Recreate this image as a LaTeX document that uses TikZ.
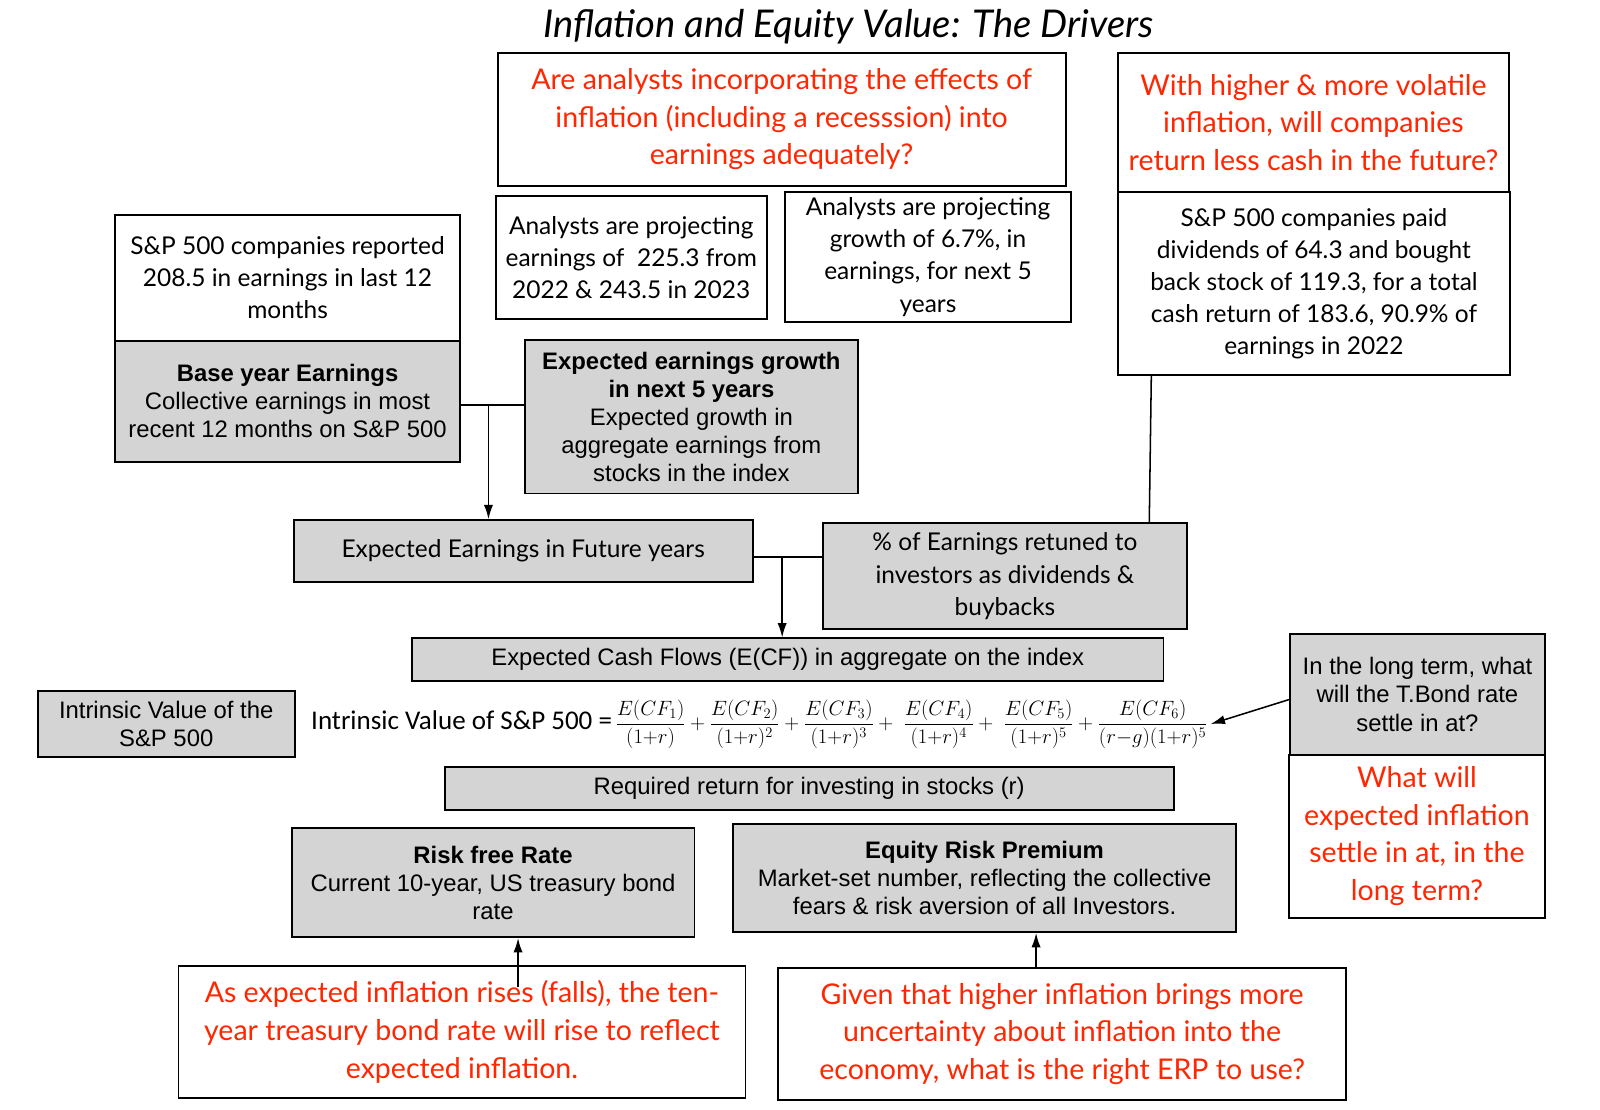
\RequirePackage{fix-cm}
\documentclass[tikz,border=0pt]{standalone}
\usepackage[no-math]{fontspec}
\usepackage{amsmath}
\setmainfont{Lato}
\newfontfamily\arfont{Liberation Sans}
\newfontfamily\calfont{Carlito}
\usetikzlibrary{arrows.meta,calc}
\definecolor{boxgray}{RGB}{212,212,212}
\definecolor{qred}{RGB}{255,38,0}
\tikzset{
 box/.style={draw=black, line width=1.8pt, inner sep=0pt, align=center},
 wbox/.style={box, fill=white, font=\fontsize{24}{31.5}\selectfont},
 gbox/.style={box, fill=boxgray, font=\arfont\fontsize{23.4}{27.5}\selectfont},
 gavbox/.style={box, fill=boxgray, font=\fontsize{24}{31.5}\selectfont},
 rbox/.style={box, fill=white, text=qred, font=\fontsize{28}{37}\selectfont},
 conn/.style={line width=1.5pt},
 arr/.style={conn, -{Latex[length=14pt,width=9pt]}},
}
\begin{document}
\begin{tikzpicture}[x=1pt,y=-1pt]
\useasboundingbox[fill=white] (0,0) rectangle (1569,1088);
\node[font=\itshape\fontsize{37.5}{40}\selectfont] (title) at (832,26) {Inflation and Equity Value: The Drivers};

\node[rbox, minimum width=557, minimum height=130] (q1) at (766.5,117) {Are analysts incorporating the effects of\\inflation (including a recesssion) into\\earnings adequately?};
\node[rbox, minimum width=384, minimum height=136] (q2) at (1288,120) {With higher \& more volatile\\inflation, will companies\\return less cash in the future?};
\node[wbox, minimum width=385, minimum height=180] (paid) at (1288.5,278) {S\&P 500 companies paid\\dividends of 64.3 and bought\\back stock of 119.3, for a total\\cash return of 183.6, 90.9\% of\\earnings in 2022};
\node[wbox, minimum width=266, minimum height=121] (proj1) at (619,252.5) {Analysts are projecting\\earnings of~ 225.3 from\\2022 \& 243.5 in 2023};
\node[wbox, minimum width=280, minimum height=128] (proj2) at (910,252) {Analysts are projecting\\growth of 6.7\%, in\\earnings, for next 5\\years};
\node[wbox, minimum width=338, minimum height=123] (rep) at (282,272.5) {S\&P 500 companies reported\\208.5 in earnings in last 12\\months};
\node[gbox, minimum width=338, minimum height=119] (base) at (282,393.5) {\textbf{Base year Earnings}\\Collective earnings in most\\recent 12 months on S\&P 500};
\node[gbox, minimum width=326, minimum height=151] (growth) at (678,408.5) {\textbf{Expected earnings growth}\\\textbf{in next 5 years}\\Expected growth in\\aggregate earnings from\\stocks in the index};
\node[gavbox, minimum width=450, minimum height=61] (future) at (513,540.5) {Expected Earnings in Future years};
\node[gavbox, minimum width=357, minimum height=104] (pct) at (985.5,565) {\% of Earnings retuned to\\investors as dividends \&\\buybacks};
\node[gbox, minimum width=737, minimum height=42] (ecf) at (772.5,647) {Expected Cash Flows (E(CF)) in aggregate on the index};
\node[gbox, minimum width=252, minimum height=64] (iv) at (163,710) {Intrinsic Value of the\\S\&P 500};
\node[anchor=west, inner sep=3pt] (formula) at (302,710) {\calfont\fontsize{26.5}{30}\selectfont Intrinsic Value of S\&P 500 =\fontsize{20.3}{23}\selectfont$\displaystyle\,\frac{E(CF_1)}{(1{+}r)}+\frac{E(CF_2)}{(1{+}r)^2}+\frac{E(CF_3)}{(1{+}r)^3}+\;\frac{E(CF_4)}{(1{+}r)^4}+\;\frac{E(CF_5)}{(1{+}r)^5}+\frac{E(CF_6)}{(r{-}g)(1{+}r)^5}$};
\node[gbox, minimum width=250, minimum height=118] (lt) at (1390,681) {In the long term, what\\will the T.Bond rate\\settle in at?};
\node[rbox, minimum width=251, minimum height=160] (ei) at (1389.5,820) {What will\\expected inflation\\settle in at, in the\\long term?};
\node[gbox, minimum width=715, minimum height=42] (rr) at (793.5,773) {Required return for investing in stocks (r)};
\node[gbox, minimum width=395, minimum height=107] (rf) at (483.5,865.5) {\textbf{Risk free Rate}\\Current 10-year, US treasury bond\\rate};
\node[gbox, minimum width=493, minimum height=106] (erp) at (965.5,861) {\textbf{Equity Risk Premium}\\Market-set number, reflecting the collective\\fears \& risk aversion of all Investors.};
\node[rbox, minimum width=556, minimum height=130] (infl) at (453,1012) {As expected inflation rises (falls), the ten-\\year treasury bond rate will rise to reflect\\expected inflation.};
\node[rbox, minimum width=557, minimum height=130] (erpq) at (1041.5,1014) {Given that higher inflation brings more\\uncertainty about inflation into the\\economy, what is the right ERP to use?};

\coordinate (j1) at (479,397);
\draw[conn] (base.east |- j1) -- (growth.west |- j1);
\draw[arr] (j1) -- (future.north -| j1);
\coordinate (j2) at (767,546);
\draw[conn] (future.east |- j2) -- (pct.west |- j2);
\draw[arr] (j2) -- (ecf.north -| j2);
\draw[conn] ([xshift=-159.5pt]paid.south) -- ([xshift=141.5pt]pct.north);
\draw[arr] ([yshift=-5pt]lt.west) -- (formula.east);
\coordinate (s5) at (508,968);
\draw[arr] (s5) -- (rf.south -| s5);
\coordinate (s6) at (1016,949);
\draw[arr] (erpq.north -| s6) -- (erp.south -| s6);
\end{tikzpicture}
\end{document}
